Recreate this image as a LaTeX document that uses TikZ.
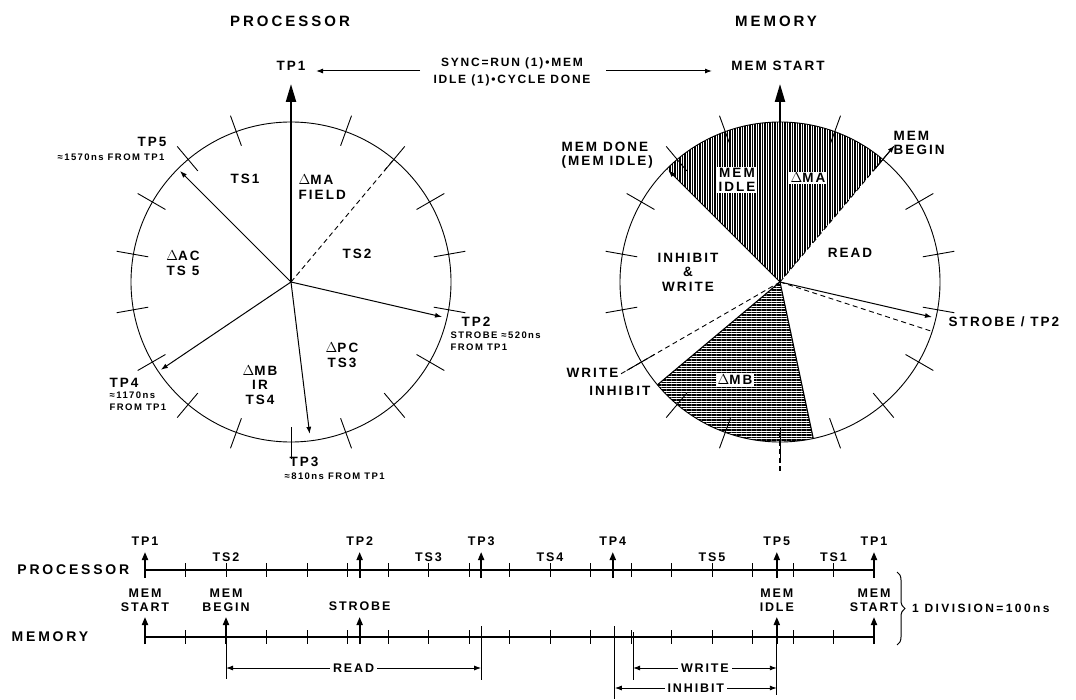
\documentclass[tikz,border=0pt]{standalone}
\usepackage{fontspec}
\setmainfont{Liberation Sans}[LetterSpace=15]
\newfontfamily\widefont{Liberation Sans}[LetterSpace=20]
\usetikzlibrary{arrows.meta,patterns.meta,decorations.pathreplacing,calc}
\begin{document}
\begin{tikzpicture}[x=1pt,y=-1pt,
  lbl/.style={font=\fontsize{13.5}{14.5}\selectfont\bfseries, inner sep=0.5pt, align=center},
  tlb/.style={font=\fontsize{12.5}{14}\selectfont\bfseries, inner sep=0.5pt, align=center},
  ttl/.style={font=\fontsize{15}{17}\selectfont\widefont\bfseries, inner sep=0.5pt},
  sml/.style={font=\fontsize{9.5}{12}\selectfont\bfseries, inner sep=0.5pt, align=left},
  rim/.style={line width=0.9pt},
  tk/.style={line width=0.9pt},
  ptr/.style={line width=1pt, -{Latex[length=7pt,width=5pt]}},
  bigptr/.style={line width=2.2pt, -{Triangle[length=18pt,width=10pt]}},
  dsh/.style={line width=0.9pt, dash pattern=on 5pt off 3.5pt},
  tline/.style={line width=1.3pt},
  tparr/.style={line width=1.8pt, -{Triangle[length=8pt,width=6pt]}},
  wbox/.style={fill=white, inner sep=1.5pt},
  harrow/.style={line width=0.9pt, {Latex[length=7pt,width=5pt]}-{Latex[length=7pt,width=5pt]}},
  vline/.style={line width=0.9pt},
]
\useasboundingbox (0,0) rectangle (1076,700);

% ---------- titles and sync ----------
\node[ttl] (ptitle) at (290,21) {PROCESSOR};
\node[ttl] (mtitle) at (776,21) {MEMORY};
\node[lbl] (tp1top) at (291,66) {TP1};
\node[lbl] (mstarttop) at (778,66) {MEM START};
\node[font=\fontsize{12}{17}\selectfont\bfseries, align=center, inner sep=1pt] (sync) at (512,72) {SYNC=RUN (1)\textbullet MEM\\IDLE (1)\textbullet CYCLE DONE};
\coordinate (sl) at (420,71);
\coordinate (slt) at (316,71);
\coordinate (sr) at (606,71);
\coordinate (srt) at (712,71);
\draw[ptr] (sl) -- (slt);
\draw[ptr] (sr) -- (srt);

% ---------- processor circle ----------
\coordinate (L) at (291,282);
\draw[rim] (L) circle[radius=160];
\foreach \a in {20,40,...,340}{\draw[tk] ($(L)+({\a-90}:145)$) -- ($(L)+({\a-90}:177)$);}
\coordinate (Ltop) at (291,84);
\coordinate (Ltp2) at ($(L)+(13:155)$);
\coordinate (Ltp3) at ($(L)+(83:153)$);
\coordinate (Ltp4) at ($(L)+(146:157)$);
\coordinate (Ltp5) at ($(L)+(225:157)$);
\coordinate (Ld) at ($(L)+(-50:160)$);
\draw[bigptr] (L) -- (Ltop);
\draw[ptr] (L) -- (Ltp2);
\draw[ptr] (L) -- (Ltp3);
\draw[ptr] (L) -- (Ltp4);
\draw[ptr] (L) -- (Ltp5);
\draw[dsh] (L) -- (Ld);

\node[lbl, anchor=west, align=left] (lma) at (298,187) {$\Delta$MA\\FIELD};
\node[lbl] (lts2) at (357,254) {TS2};
\node[lbl] (lts1) at (245,179) {TS1};
\node[lbl] (lts5) at (183,263) {$\Delta$AC\\TS 5};
\node[lbl] (lts3) at (342,355) {$\Delta$PC\\TS3};
\node[lbl] (lts4) at (260,385) {$\Delta$MB\\IR\\TS4};
\node[lbl] (ltp5) at (152,142) {TP5};
\node[sml, anchor=west] (ltp5s) at (57,157) {≈1570ns FROM TP1};
\node[lbl, anchor=west] (ltp2) at (461,322) {TP2};
\node[sml, anchor=north west] (ltp2s) at (450,331) {STROBE ≈520ns\\FROM TP1};
\node[lbl, anchor=west] (ltp4) at (109,383) {TP4};
\node[sml, anchor=north west] (ltp4s) at (109,391) {≈1170ns\\FROM TP1};
\node[lbl, anchor=west] (ltp3) at (289,462) {TP3};
\node[sml, anchor=west] (ltp3s) at (284,476) {≈810ns FROM TP1};

% ---------- memory circle ----------
\coordinate (M) at (780,282);
\path[pattern={Lines[angle=90,distance=2.5pt,line width=1.3pt]}] (M) -- ($(M)+(225:160)$) arc[start angle=225,end angle=310,radius=160] -- cycle;
\path[pattern={Lines[angle=0,distance=2.5pt,line width=1.3pt]}] (M) -- ($(M)+(78:160)$) arc[start angle=78,end angle=140,radius=160] -- cycle;
\draw[rim] (M) circle[radius=160];
\foreach \a in {20,40,...,340}{\draw[tk] ($(M)+({\a-90}:145)$) -- ($(M)+({\a-90}:177)$);}
\coordinate (Mtop) at (780,84);
\coordinate (Mdone) at ($(M)+(225:158)$);
\coordinate (Mbeg) at ($(M)+(-50:160)$);
\coordinate (Mbeg1) at ($(M)+(-50:148)$);
\coordinate (Mbeg2) at ($(M)+(-50:178)$);
\coordinate (Mmb1) at ($(M)+(78:160)$);
\coordinate (Mmb2) at ($(M)+(140:160)$);
\coordinate (Mwr) at ($(M)+(150:184)$);
\coordinate (Mstr) at ($(M)+(13:156)$);
\coordinate (Mstr2) at ($(M)+(18:160)$);
\coordinate (Mb1) at ($(M)+(90:150)$);
\coordinate (Mb2) at ($(M)+(90:190)$);
\draw[bigptr] (M) -- (Mtop);
\draw[ptr] (M) -- (Mdone);
\draw[dsh] (M) -- (Mbeg);
\draw[ptr] (Mbeg1) -- (Mbeg2);
\draw[line width=1.1pt] (M) -- (Mmb1);
\draw[line width=1.1pt] (M) -- (Mmb2);
\draw[dsh] (M) -- (Mwr);
\draw[ptr] (M) -- (Mstr);
\draw[dsh] (M) -- (Mstr2);
\draw[dsh, line width=1.6pt] (Mb1) -- (Mb2);

\node[lbl, wbox] (midle) at (737,180) {MEM\\IDLE};
\node[lbl, wbox] (mma) at (808,178) {$\Delta$MA};
\node[lbl] (minw) at (688,272) {INHIBIT\\\&\\WRITE};
\node[lbl] (mread) at (850,253) {READ};
\node[lbl, wbox] (mmb) at (735,380) {$\Delta$MB};
\node[lbl, anchor=west, align=left] (mdone) at (561,155) {MEM DONE\\(MEM IDLE)};
\node[lbl, anchor=west, align=left] (mbegin) at (893,143) {MEM\\BEGIN};
\node[lbl, anchor=west] (mstrobe) at (948,322) {STROBE / TP2};
\node[lbl, anchor=east] (minh) at (651,391) {INHIBIT};
\node[lbl, anchor=east] (mwrite) at (619,373) {WRITE};

% ---------- timeline ----------
\node[font=\fontsize{14}{16}\selectfont\widefont\bfseries, anchor=east, inner sep=0.5pt] (plbl) at (130,570) {PROCESSOR};
\node[font=\fontsize{14}{16}\selectfont\widefont\bfseries, anchor=west, inner sep=0.5pt] (mlbl) at (11,637) {MEMORY};
\coordinate (p0) at (145,570);
\coordinate (p18) at (874,570);
\coordinate (m0) at (145,637);
\coordinate (m18) at (874,637);
\draw[tline] (p0) -- (p18);
\draw[tline] (m0) -- (m18);
\foreach \k in {1,...,17}{
  \draw[tk] ({145+40.5*\k},563) -- ({145+40.5*\k},577);
  \draw[tk] ({145+40.5*\k},630) -- ({145+40.5*\k},644);
}
\foreach \k/\t [count=\i] in {0/TP1,5.3/TP2,8.3/TP3,11.55/TP4,15.6/TP5,18/TP1}{
  \draw[tparr] ({145+40.5*\k},578) -- ({145+40.5*\k},552);
  \node[tlb] (ptp\i) at ({145+40.5*\k},541) {\t};
}
\foreach \k/\t [count=\i] in {2/TS2,7/TS3,10/TS4,14/TS5,17/TS1}{
  \node[tlb] (pts\i) at ({145+40.5*\k},557) {\t};
}
\foreach \k/\t [count=\i] in {0/{MEM\\START},2/{MEM\\BEGIN},15.6/{MEM\\IDLE},18/{MEM\\START}}{
  \node[tlb] (mev\i) at ({145+40.5*\k},600) {\t};
}
\node[tlb] (mstb) at ({145+40.5*5.3},606) {STROBE};
\foreach \k in {0,2,5.3,15.6,18}{
  \draw[tparr] ({145+40.5*\k},644) -- ({145+40.5*\k},617);
}
% READ / WRITE / INHIBIT
\coordinate (rdA) at (226,668);
\coordinate (rdB) at ({145+40.5*8.3},668);
\coordinate (wrA) at ({145+40.5*12.05},668);
\coordinate (wrB) at ({145+40.5*15.6},668);
\coordinate (inA) at ({145+40.5*11.6},688);
\coordinate (inB) at ({145+40.5*15.6},688);
\draw[vline] (226,637) -- (226,679);
\draw[vline] ({145+40.5*8.3},626) -- ({145+40.5*8.3},680);
\draw[vline] ({145+40.5*12.05},632) -- ({145+40.5*12.05},680);
\draw[vline] ({145+40.5*11.6},626) -- ({145+40.5*11.6},699);
\draw[vline] ({145+40.5*15.6},637) -- ({145+40.5*15.6},695);
\draw[harrow] (rdA) -- node[tlb, fill=white, inner sep=3pt] (rdl) {READ} (rdB);
\draw[harrow] (wrA) -- node[tlb, fill=white, inner sep=3pt] (wrl) {WRITE} (wrB);
\draw[harrow] (inA) -- node[tlb, fill=white, inner sep=3pt] (inl) {INHIBIT} (inB);

% brace and division note
\coordinate (bt) at (897,572);
\coordinate (bb) at (897,645);
\draw[line width=1pt, decorate, decoration={brace, amplitude=8pt}] (bt) -- (bb);
\node[font=\fontsize{12}{14}\selectfont\widefont\bfseries, anchor=west, inner sep=1pt] (div) at (911,608) {1 DIVISION=100ns};
\end{tikzpicture}
\end{document}
